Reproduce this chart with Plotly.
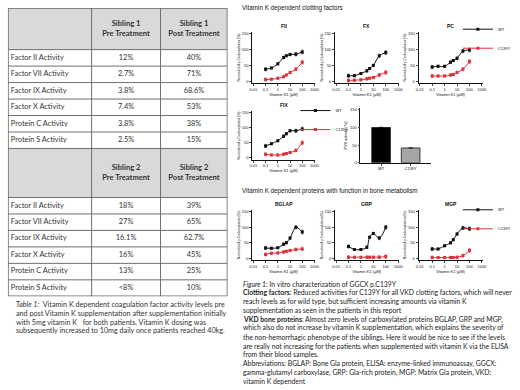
import plotly.graph_objects as go

W, H = 520, 390

# ---------------- data ----------------
table_rows = ["Factor II Activity", "Factor VII Activity", "Factor IX Activity",
              "Factor X Activity", "Protein C Activity", "Protein S Activity"]
sib1_header = ["Sibling 1", "Pre Treatment", "Sibling 1", "Post Treatment"]
sib2_header = ["Sibling 2", "Pre Treatment", "Sibling 2", "Post Treatment"]
sib1_pre = ["12%", "2.7%", "3.8%", "7.4%", "3.8%", "2.5%"]
sib1_post = ["40%", "71%", "68.6%", "53%", "38%", "15%"]
sib2_pre = ["18%", "27%", "16.1%", "16%", "13%", "<8%"]
sib2_post = ["39%", "65%", "62.7%", "45%", "25%", "10%"]

conc = [0.1, 0.3, 1, 3, 5, 10, 30, 100]
fii_wt = [38, 42, 55, 75, 80, 84, 85, 92]
fii_mut = [6, 7, 10, 15, 20, 28, 38, 60]
fx_wt = [18, 18, 25, 33, 40, 50, 80, 90]
fx_mut = [3, 4, 5, 8, 10, 12, 20, 28]
pc_wt = [45, 47, 47, 60, 65, 72, 95, 98]
pc_mut = [17, 17, 17, 20, 22, 28, 38, 62]
fix_wt = [40, 47, 57, 72, 80, 90, 90, 96]
fix_mut = [12, 10, 10, 12, 15, 18, 25, 50]
bglap_wt = [33, 32, 34, 45, 50, 65, 100, 85]
bglap_mut = [12, 16, 17, 20, 22, 25, 28, 30]
grp_wt = [38, 28, 28, 35, 68, 80, 65, 100]
grp_mut = [3, 3, 3, 3, 3, 3, 3, 5]
mgp_wt = [30, 30, 40, 50, 60, 78, 98, 95]
mgp_mut = [2, 2, 2, 2, 2, 3, 8, 25]
err_small = [5, 3, 3, 4, 3, 4, 5, 6]

bar_cats = ["WT", "C139Y"]
bar_vals = [100, 42]

x_ticks = [0.01, 0.1, 1, 10, 100, 1000]
x_ticktext = ["0.01", "0.1", "1", "10", "100", "1000"]
y_ticks = [0, 50, 100, 150]

# ---------------- helpers / layout constants ----------------
def py(p):
    return 1 - p / H

def pxx(p):
    return p / W

BLACK = "#111111"
RED = "#e0303a"
CFONT = "Lato"
AFONT = "Liberation Sans"
TXT = "#333333"

fig = go.Figure()

# ---------------- table (drawn in its own hidden axes) ----------------
col_edges = [0, 85, 155, 223]
head1_h, row_h, head2_h = 42, 16.6, 49.4
row_edges = [0, head1_h]
for _ in table_rows:
    row_edges.append(row_edges[-1] + row_h)
row_edges.append(row_edges[-1] + head2_h)
for _ in table_rows:
    row_edges.append(row_edges[-1] + row_h)
tab_h = row_edges[-1]

def mid(a, b):
    return (a + b) / 2

shapes = []
for (a, b) in [(row_edges[0], row_edges[1]), (row_edges[7], row_edges[8])]:
    shapes.append(dict(type="rect", xref="x9", yref="y9", x0=col_edges[0], x1=col_edges[-1], y0=a, y1=b,
                       fillcolor="#d9d9d9", line=dict(width=0), layer="below"))
for r in row_edges[1:-1]:
    shapes.append(dict(type="line", xref="x9", yref="y9", x0=col_edges[0], x1=col_edges[-1], y0=r, y1=r,
                       line=dict(color="#6f6f6f", width=1)))
for c in col_edges[1:-1]:
    shapes.append(dict(type="line", xref="x9", yref="y9", x0=c, x1=c, y0=0, y1=tab_h,
                       line=dict(color="#6f6f6f", width=1)))
shapes.append(dict(type="rect", xref="x9", yref="y9", x0=col_edges[0], x1=col_edges[-1], y0=0, y1=tab_h,
                   line=dict(color="#6a6a6a", width=1.6)))

for hdr, (a, b) in [(sib1_header, (row_edges[0], row_edges[1])), (sib2_header, (row_edges[7], row_edges[8]))]:
    fig.add_trace(go.Scatter(
        x=[mid(col_edges[1], col_edges[2]), mid(col_edges[2], col_edges[3])],
        y=[mid(a, b), mid(a, b)], xaxis="x9", yaxis="y9", mode="text",
        text=[f"<b>{hdr[0]}</b><br><b>{hdr[1]}</b>", f"<b>{hdr[2]}</b><br><b>{hdr[3]}</b>"],
        textposition="middle center", textfont=dict(family=CFONT, size=7.6, color=TXT),
        showlegend=False, hoverinfo="skip"))

for block, (pre, post) in [(1, (sib1_pre, sib1_post)), (8, (sib2_pre, sib2_post))]:
    ys = [mid(row_edges[block + i], row_edges[block + i + 1]) for i in range(len(table_rows))]
    fig.add_trace(go.Scatter(
        x=[col_edges[0] + 3] * len(table_rows), y=ys, xaxis="x9", yaxis="y9", mode="text",
        text=table_rows, textposition="middle right",
        textfont=dict(family=CFONT, size=7.4, color=TXT), showlegend=False, hoverinfo="skip"))
    fig.add_trace(go.Scatter(
        x=[mid(col_edges[1], col_edges[2])] * len(pre) + [mid(col_edges[2], col_edges[3])] * len(post),
        y=ys + ys, xaxis="x9", yaxis="y9", mode="text", text=pre + post,
        textposition="middle center", textfont=dict(family=CFONT, size=7.4, color=TXT),
        showlegend=False, hoverinfo="skip"))

layout_axes = {
    "xaxis9": dict(domain=[pxx(5), pxx(228)], range=[col_edges[0], col_edges[-1]], visible=False, anchor="y9"),
    "yaxis9": dict(domain=[py(7 + tab_h), py(7)], range=[tab_h, 0], visible=False, anchor="x9"),
}

# ---------------- line plots ----------------
panels = [
    ("FII", fii_wt, fii_mut, 253, 317, 31, 83, None),
    ("FX", fx_wt, fx_mut, 337, 402, 31, 83, None),
    ("PC", pc_wt, pc_mut, 422, 487, 31, 83, "legend"),
    ("FIX", fix_wt, fix_mut, 253, 317, 111, 160, "legend2"),
    ("BGLAP", bglap_wt, bglap_mut, 253, 317, 211, 261, None),
    ("GRP", grp_wt, grp_mut, 337, 402, 211, 261, None),
    ("MGP", mgp_wt, mgp_mut, 422, 487, 211, 261, "legend3"),
]

annotations = []
for i, (name, wt, mut, x0, x1, top, bot, leg) in enumerate(panels):
    n = i + 1
    xa = "x" if n == 1 else f"x{n}"
    ya = "y" if n == 1 else f"y{n}"
    for label, vals, col in [("WT", wt, BLACK), ("C139Y", mut, RED)]:
        fig.add_trace(go.Scatter(
            x=conc, y=vals, name=label, xaxis=xa, yaxis=ya,
            mode="lines+markers",
            line=dict(color=col, width=1, shape="spline", smoothing=0.9),
            marker=dict(color=col, size=3, symbol="square"),
            error_y=dict(type="data", array=err_small, color=col, thickness=0.6, width=1),
            showlegend=leg is not None,
            legend=leg if leg else "legend",
        ))
    layout_axes["xaxis" if n == 1 else f"xaxis{n}"] = dict(
        type="log", range=[-2.1, 3.05], domain=[pxx(x0), pxx(x1)], anchor=ya,
        tickvals=x_ticks, ticktext=x_ticktext, ticks="outside", ticklen=2, tickwidth=0.8,
        showline=True, linecolor=BLACK, linewidth=0.8, showgrid=False, zeroline=False,
        tickfont=dict(size=4, family=AFONT, color=BLACK),
        title=dict(text="Vitamin K1 (μM)", font=dict(size=4, family=AFONT, color=BLACK), standoff=1),
    )
    layout_axes["yaxis" if n == 1 else f"yaxis{n}"] = dict(
        range=[-6, 155], domain=[py(bot), py(top)], anchor=xa,
        tickvals=y_ticks, ticks="outside", ticklen=2, tickwidth=0.8,
        showline=True, linecolor=BLACK, linewidth=0.8, showgrid=False, zeroline=False,
        tickfont=dict(size=4, family=AFONT, color=BLACK),
        title=dict(text="Normalized γ-Carboxylation (%)", font=dict(size=3.4, family=AFONT, color=BLACK), standoff=1),
    )
    annotations.append(dict(text=f"<b>{name}</b>", x=(pxx(x0) + pxx(x1)) / 2, y=py(top - 6),
                            xref="paper", yref="paper", showarrow=False,
                            font=dict(size=5, family=AFONT, color=BLACK), xanchor="center", yanchor="middle"))

# ---------------- bar chart ----------------
fig.add_trace(go.Bar(
    x=bar_cats, y=bar_vals, xaxis="x8", yaxis="y8", width=0.63,
    marker=dict(color=["#000000", "#a6a6a6"], line=dict(color=BLACK, width=0.8)),
    error_y=dict(type="data", array=[1, 1], color=BLACK, thickness=0.6, width=2),
    showlegend=False,
))
layout_axes["xaxis8"] = dict(
    domain=[pxx(363), pxx(435)], anchor="y8", range=[-0.7, 1.7], ticks="outside", ticklen=2,
    showline=True, linecolor=BLACK, linewidth=0.8, showgrid=False,
    tickfont=dict(size=4, family=AFONT, color=BLACK),
)
layout_axes["yaxis8"] = dict(
    domain=[py(163), py(108)], anchor="x8", range=[0, 155], tickvals=y_ticks, ticks="outside", ticklen=2,
    showline=True, linecolor=BLACK, linewidth=0.8, showgrid=False, zeroline=False,
    tickfont=dict(size=4, family=AFONT, color=BLACK),
    title=dict(text="FVII activity (%)", font=dict(size=4, family=AFONT, color=BLACK), standoff=2),
)

# ---------------- section titles ----------------
for txt, y in [("Vitamin K dependent clotting factors", 7),
               ("Vitamin K dependent proteins with function in bone metabolism", 191)]:
    annotations.append(dict(text=txt, x=pxx(241), y=py(y), xref="paper", yref="paper", showarrow=False,
                            xanchor="left", yanchor="middle",
                            font=dict(size=6.3, family=AFONT, color=BLACK)))

# ---------------- captions ----------------
table_caption = [
    "<i>Table 1:</i>  Vitamin K dependent coagulation factor activity levels pre",
    "and post Vitamin K supplementation after supplementation initially",
    "with 5mg vitamin K   for both patients. Vitamin K dosing was",
    "subsequently increased to 10mg daily once patients reached 40kg.",
]
for k, line in enumerate(table_caption):
    annotations.append(dict(text=line, x=pxx(11), y=py(306 + 8.8 * k), xref="paper", yref="paper",
                            showarrow=False, xanchor="left", yanchor="middle",
                            font=dict(size=7.2, family=CFONT, color="#333333")))

fig_caption = [
    "<i>Figure 1:</i> In vitro characterization of GGCX p.C139Y",
    "<b>Clotting factors</b>: Reduced activities for C139Y for all VKD clotting factors, which will never",
    "reach levels as for wild type, but sufficient increasing amounts via vitamin K",
    "supplementation as seen in the patients in this report",
    "<b>VKD bone proteins</b>: Almost zero levels of carboxylated proteins BGLAP, GRP and MGP,",
    "which also do not increase by vitamin K supplementation, which explains the severity of",
    "the non-hemorrhagic phenotype of the siblings. Here it would be nice to see if the levels",
    "are really not increasing for the patients when supplemented with vitamin K via the ELISA",
    "from their blood samples.",
    "Abbreviations: BGLAP: Bone Gla protein, ELISA: enzyme-linked immunoassay, GGCX:",
    "gamma-glutamyl carboxylase, GRP: Gla-rich protein, MGP: Matrix Gla protein, VKD:",
    "vitamin K dependent",
]
for k, line in enumerate(fig_caption):
    annotations.append(dict(text=line, x=pxx(242), y=py(285 + 8.9 * k), xref="paper", yref="paper",
                            showarrow=False, xanchor="left", yanchor="middle",
                            font=dict(size=6.8, family=CFONT, color="#222222")))

leg_common = dict(font=dict(size=4, family=AFONT, color=BLACK), bgcolor="rgba(0,0,0,0)",
                  xanchor="left", yanchor="middle", itemwidth=30, tracegroupgap=0,
                  xref="paper", yref="paper")
fig.update_layout(
    width=W, height=H, margin=dict(l=0, r=0, t=0, b=0),
    paper_bgcolor="white", plot_bgcolor="white",
    font=dict(family=AFONT, color=BLACK),
    annotations=annotations,
    shapes=shapes,
    legend=dict(x=pxx(462), y=py(38), **leg_common),
    legend2=dict(x=pxx(297), y=py(120), **leg_common),
    legend3=dict(x=pxx(462), y=py(220), **leg_common),
    **layout_axes,
)

fig.write_html("out.html", config={"displayModeBar": False},
               post_script="document.body.style.margin='0px';document.body.style.overflow='hidden';")
